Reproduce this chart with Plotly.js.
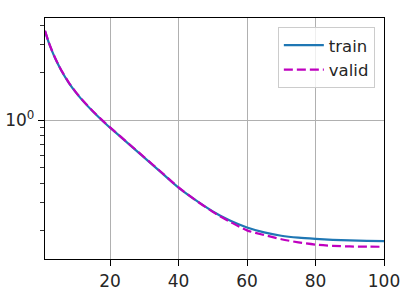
<!DOCTYPE html>
<html>
<head>
<meta charset="utf-8">
<script src="https://cdn.plot.ly/plotly-3.0.1.min.js"></script>
<style>html,body{margin:0;padding:0;background:#fff;}#chart{width:406px;height:292px;}</style>
</head>
<body>
<div id="chart"></div>
<script>
const epochs = [1, 2, 3, 4, 5, 6, 8, 10, 12, 15, 18, 20, 25, 30, 35, 40, 45, 50, 55, 60, 65, 70, 75, 80, 85, 90, 95, 100];
const trainLoss = [3.673, 3.148, 2.761, 2.460, 2.218, 2.018, 1.718, 1.500, 1.330, 1.135, 0.9817, 0.8974, 0.7211, 0.5794, 0.4656, 0.3741, 0.3112, 0.2642, 0.2312, 0.2089, 0.1945, 0.1853, 0.1801, 0.1770, 0.1746, 0.1730, 0.1720, 0.1714];
const validLoss = [3.69, 3.16, 2.775, 2.47, 2.23, 2.03, 1.725, 1.507, 1.337, 1.14, 0.986, 0.901, 0.724, 0.582, 0.468, 0.375, 0.311, 0.2625, 0.2275, 0.2004, 0.1873, 0.1762, 0.1683, 0.1629, 0.1600, 0.1585, 0.1580, 0.1578];
const xTicks = [20, 40, 60, 80, 100];
const yMajorTicks = [1];
const yMajorLabels = ['10<sup>0</sup>'];
const yMinorTicks = [0.2, 0.3, 0.4, 0.5, 0.6, 0.7, 0.8, 0.9, 2, 3, 4];

const font = {family: 'DejaVu Sans, sans-serif', size: 17, color: '#262626'};

const data = [
  {x: epochs, y: trainLoss, name: 'train', mode: 'lines',
   line: {color: '#1f77b4', width: 2.2, shape: 'spline', smoothing: 0.8}},
  {x: epochs, y: validLoss, name: 'valid', mode: 'lines',
   line: {color: '#bf00bf', width: 2.2, dash: '9px,4px', shape: 'spline', smoothing: 0.8}}
];

const layout = {
  width: 406, height: 292,
  margin: {l: 45, r: 22, t: 18, b: 33, pad: 0},
  paper_bgcolor: '#fff', plot_bgcolor: '#fff',
  font: font,
  showlegend: true,
  legend: {x: 0.973, y: 0.963, xanchor: 'right', yanchor: 'top',
           bgcolor: 'rgba(255,255,255,0.8)', bordercolor: '#cccccc', borderwidth: 1,
           font: {family: font.family, size: 16.5, color: font.color}, itemwidth: 40},
  xaxis: {range: [1, 100], tickmode: 'array', tickvals: xTicks, ticktext: xTicks.map(String),
          showgrid: true, gridcolor: '#b0b0b0', gridwidth: 1,
          showline: true, linecolor: '#000', linewidth: 1.2, mirror: true,
          ticks: 'outside', ticklen: 6, tickwidth: 1, tickcolor: '#000',
          zeroline: false, tickfont: font},
  yaxis: {type: 'log', range: [Math.log10(0.132), Math.log10(4.44)],
          tickmode: 'array', tickvals: yMajorTicks, ticktext: yMajorLabels,
          showgrid: true, gridcolor: '#b0b0b0', gridwidth: 1,
          showline: true, linecolor: '#000', linewidth: 1.2, mirror: true,
          ticks: 'outside', ticklen: 6, tickwidth: 1, tickcolor: '#000',
          zeroline: false, tickfont: font,
          minor: {tickmode: 'array', tickvals: yMinorTicks, ticks: 'outside', ticklen: 3.5,
                  tickwidth: 0.8, tickcolor: '#000', showgrid: false}}
};

Plotly.newPlot('chart', data, layout, {staticPlot: true, displayModeBar: false});
</script>
</body>
</html>
